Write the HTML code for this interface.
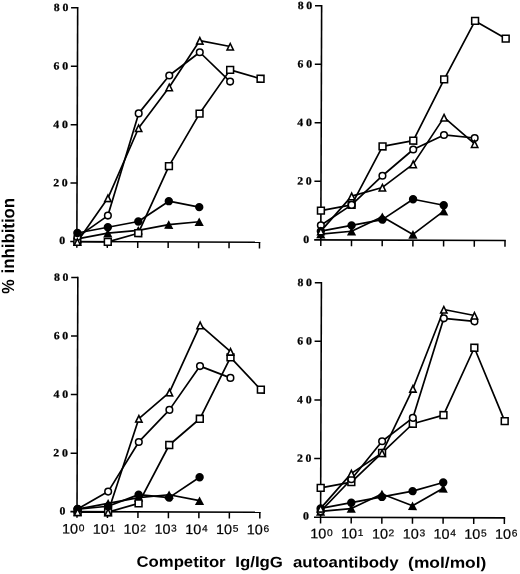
<!DOCTYPE html>
<html lang="en">
<head>
<meta charset="utf-8">
<title>Competitor Ig/IgG autoantibody inhibition</title>
<style>
html,body{margin:0;padding:0;background:#fff;}
body{width:520px;height:574px;overflow:hidden;}
svg{display:block;}
.yl{font-family:"Liberation Serif",serif;font-weight:bold;font-size:11px;fill:#000;stroke:#000;stroke-width:0.25px;}
.xl{font-family:"Liberation Sans",sans-serif;font-size:13.8px;fill:#000;stroke:#000;stroke-width:0.2px;}
.xs{font-family:"Liberation Sans",sans-serif;font-size:9.8px;fill:#000;stroke:#000;stroke-width:0.2px;}
.ttl text{font-family:"Liberation Sans",sans-serif;font-weight:bold;font-size:15.2px;fill:#000;}
.ylab text{font-family:"Liberation Sans",sans-serif;font-weight:bold;font-size:17.5px;fill:#000;}
</style>
</head>
<body>
<svg width="520" height="574" viewBox="0 0 520 574">
<rect width="520" height="574" fill="#fff"/>
<g transform="rotate(0.2)">
<g id="panelA">
<path d="M77.7 6.7V241.3" stroke="#000" stroke-width="1.6" fill="none"/>
<path d="M71.1 241.3H261.14" stroke="#000" stroke-width="1.6" fill="none"/>
<path d="M71.1 182.85H77.7M71.1 124.4H77.7M71.1 65.95H77.7M71.1 7.5H77.7M77.7 241.3V247.5M108.14 241.3V247.5M138.58 241.3V247.5M169.02 241.3V247.5M199.46 241.3V247.5M229.9 241.3V247.5M260.34 241.3V247.5" stroke="#000" stroke-width="1.5" fill="none"/>
<text class="yl" transform="translate(66.1 243.7) scale(1.07 1)" text-anchor="end">0</text>
<text class="yl" transform="translate(68.3 186.15) scale(1.07 1)" text-anchor="end" word-spacing="-0.2">2 0</text>
<text class="yl" transform="translate(68.3 127.7) scale(1.07 1)" text-anchor="end" word-spacing="-0.2">4 0</text>
<text class="yl" transform="translate(68.3 69.25) scale(1.07 1)" text-anchor="end" word-spacing="-0.2">6 0</text>
<text class="yl" transform="translate(68.3 10.8) scale(1.07 1)" text-anchor="end" word-spacing="-0.2">8 0</text>
<path d="M78.2 238.58L108.64 232.73L139.08 229.81L169.52 223.97L199.96 221.04" stroke="#000" stroke-width="1.7" fill="none" stroke-linejoin="round"/>
<path d="M78.2 241.5L108.64 241.5L139.08 232.73L169.52 165.51L199.96 112.91L230.4 69.07L260.84 77.84" stroke="#000" stroke-width="1.7" fill="none" stroke-linejoin="round"/>
<path d="M78.2 236.82L108.64 215.2L139.08 112.91L169.52 74.92L199.96 51.54L230.4 80.76" stroke="#000" stroke-width="1.7" fill="none" stroke-linejoin="round"/>
<path d="M78.2 232.73L108.64 226.89L139.08 221.04L169.52 200.58L199.96 206.43" stroke="#000" stroke-width="1.7" fill="none" stroke-linejoin="round"/>
<path d="M78.2 241.5L108.64 197.66L139.08 127.52L169.52 86.61L199.96 39.85L230.4 45.69" stroke="#000" stroke-width="1.7" fill="none" stroke-linejoin="round"/>
<polygon points="78.2,234.28 82.8,242.88 73.6,242.88" fill="#000"/>
<polygon points="108.64,228.43 113.24,237.03 104.04,237.03" fill="#000"/>
<polygon points="139.08,225.51 143.68,234.11 134.48,234.11" fill="#000"/>
<polygon points="169.52,219.66 174.12,228.27 164.92,228.27" fill="#000"/>
<polygon points="199.96,216.74 204.56,225.34 195.36,225.34" fill="#000"/>
<rect x="74.8" y="238.1" width="6.8" height="6.8" fill="#fff" stroke="#000" stroke-width="1.55"/>
<rect x="105.24" y="238.1" width="6.8" height="6.8" fill="#fff" stroke="#000" stroke-width="1.55"/>
<rect x="135.68" y="229.33" width="6.8" height="6.8" fill="#fff" stroke="#000" stroke-width="1.55"/>
<rect x="166.12" y="162.11" width="6.8" height="6.8" fill="#fff" stroke="#000" stroke-width="1.55"/>
<rect x="196.56" y="109.51" width="6.8" height="6.8" fill="#fff" stroke="#000" stroke-width="1.55"/>
<rect x="227" y="65.67" width="6.8" height="6.8" fill="#fff" stroke="#000" stroke-width="1.55"/>
<rect x="257.44" y="74.44" width="6.8" height="6.8" fill="#fff" stroke="#000" stroke-width="1.55"/>
<circle cx="78.2" cy="236.82" r="3.3" fill="#fff" stroke="#000" stroke-width="1.55"/>
<circle cx="108.64" cy="215.2" r="3.3" fill="#fff" stroke="#000" stroke-width="1.55"/>
<circle cx="139.08" cy="112.91" r="3.3" fill="#fff" stroke="#000" stroke-width="1.55"/>
<circle cx="169.52" cy="74.92" r="3.3" fill="#fff" stroke="#000" stroke-width="1.55"/>
<circle cx="199.96" cy="51.54" r="3.3" fill="#fff" stroke="#000" stroke-width="1.55"/>
<circle cx="230.4" cy="80.76" r="3.3" fill="#fff" stroke="#000" stroke-width="1.55"/>
<circle cx="78.2" cy="232.73" r="4.2" fill="#000"/>
<circle cx="108.64" cy="226.89" r="4.2" fill="#000"/>
<circle cx="139.08" cy="221.04" r="4.2" fill="#000"/>
<circle cx="169.52" cy="200.58" r="4.2" fill="#000"/>
<circle cx="199.96" cy="206.43" r="4.2" fill="#000"/>
<polygon points="78.2,238.5 81.4,245.05 75,245.05" fill="#fff" stroke="#000" stroke-width="1.55" stroke-linejoin="miter"/>
<polygon points="108.64,194.66 111.84,201.21 105.44,201.21" fill="#fff" stroke="#000" stroke-width="1.55" stroke-linejoin="miter"/>
<polygon points="139.08,124.52 142.28,131.07 135.88,131.07" fill="#fff" stroke="#000" stroke-width="1.55" stroke-linejoin="miter"/>
<polygon points="169.52,83.61 172.72,90.16 166.32,90.16" fill="#fff" stroke="#000" stroke-width="1.55" stroke-linejoin="miter"/>
<polygon points="199.96,36.85 203.16,43.4 196.76,43.4" fill="#fff" stroke="#000" stroke-width="1.55" stroke-linejoin="miter"/>
<polygon points="230.4,42.69 233.6,49.24 227.2,49.24" fill="#fff" stroke="#000" stroke-width="1.55" stroke-linejoin="miter"/>
</g>
<g id="panelB">
<path d="M321.65 3.8V238.8" stroke="#000" stroke-width="1.6" fill="none"/>
<path d="M315.05 238.8H506.65" stroke="#000" stroke-width="1.6" fill="none"/>
<path d="M315.05 180.25H321.65M315.05 121.7H321.65M315.05 63.15H321.65M315.05 4.6H321.65M321.65 238.8V245M352.35 238.8V245M383.05 238.8V245M413.75 238.8V245M444.45 238.8V245M475.15 238.8V245M505.85 238.8V245" stroke="#000" stroke-width="1.5" fill="none"/>
<text class="yl" transform="translate(310.05 241.9) scale(1.07 1)" text-anchor="end">0</text>
<text class="yl" transform="translate(312.25 183.55) scale(1.07 1)" text-anchor="end" word-spacing="-0.2">2 0</text>
<text class="yl" transform="translate(312.25 125) scale(1.07 1)" text-anchor="end" word-spacing="-0.2">4 0</text>
<text class="yl" transform="translate(312.25 66.45) scale(1.07 1)" text-anchor="end" word-spacing="-0.2">6 0</text>
<text class="yl" transform="translate(312.25 7.9) scale(1.07 1)" text-anchor="end" word-spacing="-0.2">8 0</text>
<path d="M321.65 232.95L352.35 230.02L383.05 215.38L413.75 232.95L444.45 209.53" stroke="#000" stroke-width="1.7" fill="none" stroke-linejoin="round"/>
<path d="M321.65 209.53L352.35 203.67L383.05 145.12L413.75 139.26L444.45 77.79L475.15 19.24L505.85 36.8" stroke="#000" stroke-width="1.7" fill="none" stroke-linejoin="round"/>
<path d="M321.65 224.16L352.35 203.67L383.05 174.4L413.75 148.05L444.45 133.41L475.15 136.34" stroke="#000" stroke-width="1.7" fill="none" stroke-linejoin="round"/>
<path d="M321.65 230.02L352.35 224.16L383.05 218.31L413.75 197.81L444.45 203.67" stroke="#000" stroke-width="1.7" fill="none" stroke-linejoin="round"/>
<path d="M321.65 230.02L352.35 194.89L383.05 186.11L413.75 162.69L444.45 115.84L475.15 142.19" stroke="#000" stroke-width="1.7" fill="none" stroke-linejoin="round"/>
<polygon points="321.65,228.65 326.25,237.25 317.05,237.25" fill="#000"/>
<polygon points="352.35,225.72 356.95,234.32 347.75,234.32" fill="#000"/>
<polygon points="383.05,211.08 387.65,219.68 378.45,219.68" fill="#000"/>
<polygon points="413.75,228.65 418.35,237.25 409.15,237.25" fill="#000"/>
<polygon points="444.45,205.22 449.05,213.83 439.85,213.83" fill="#000"/>
<rect x="318.25" y="206.12" width="6.8" height="6.8" fill="#fff" stroke="#000" stroke-width="1.55"/>
<rect x="348.95" y="200.27" width="6.8" height="6.8" fill="#fff" stroke="#000" stroke-width="1.55"/>
<rect x="379.65" y="141.72" width="6.8" height="6.8" fill="#fff" stroke="#000" stroke-width="1.55"/>
<rect x="410.35" y="135.86" width="6.8" height="6.8" fill="#fff" stroke="#000" stroke-width="1.55"/>
<rect x="441.05" y="74.39" width="6.8" height="6.8" fill="#fff" stroke="#000" stroke-width="1.55"/>
<rect x="471.75" y="15.84" width="6.8" height="6.8" fill="#fff" stroke="#000" stroke-width="1.55"/>
<rect x="502.45" y="33.4" width="6.8" height="6.8" fill="#fff" stroke="#000" stroke-width="1.55"/>
<circle cx="321.65" cy="224.16" r="3.3" fill="#fff" stroke="#000" stroke-width="1.55"/>
<circle cx="352.35" cy="203.67" r="3.3" fill="#fff" stroke="#000" stroke-width="1.55"/>
<circle cx="383.05" cy="174.4" r="3.3" fill="#fff" stroke="#000" stroke-width="1.55"/>
<circle cx="413.75" cy="148.05" r="3.3" fill="#fff" stroke="#000" stroke-width="1.55"/>
<circle cx="444.45" cy="133.41" r="3.3" fill="#fff" stroke="#000" stroke-width="1.55"/>
<circle cx="475.15" cy="136.34" r="3.3" fill="#fff" stroke="#000" stroke-width="1.55"/>
<circle cx="321.65" cy="230.02" r="4.2" fill="#000"/>
<circle cx="352.35" cy="224.16" r="4.2" fill="#000"/>
<circle cx="383.05" cy="218.31" r="4.2" fill="#000"/>
<circle cx="413.75" cy="197.81" r="4.2" fill="#000"/>
<circle cx="444.45" cy="203.67" r="4.2" fill="#000"/>
<polygon points="321.65,227.02 324.85,233.57 318.45,233.57" fill="#fff" stroke="#000" stroke-width="1.55" stroke-linejoin="miter"/>
<polygon points="352.35,191.89 355.55,198.44 349.15,198.44" fill="#fff" stroke="#000" stroke-width="1.55" stroke-linejoin="miter"/>
<polygon points="383.05,183.11 386.25,189.66 379.85,189.66" fill="#fff" stroke="#000" stroke-width="1.55" stroke-linejoin="miter"/>
<polygon points="413.75,159.69 416.95,166.24 410.55,166.24" fill="#fff" stroke="#000" stroke-width="1.55" stroke-linejoin="miter"/>
<polygon points="444.45,112.84 447.65,119.39 441.25,119.39" fill="#fff" stroke="#000" stroke-width="1.55" stroke-linejoin="miter"/>
<polygon points="475.15,139.19 478.35,145.74 471.95,145.74" fill="#fff" stroke="#000" stroke-width="1.55" stroke-linejoin="miter"/>
</g>
<g id="panelC">
<path d="M78.8 276.5V511.4" stroke="#000" stroke-width="1.6" fill="none"/>
<path d="M72.2 511.4H262.42" stroke="#000" stroke-width="1.6" fill="none"/>
<path d="M72.2 452.88H78.8M72.2 394.35H78.8M72.2 335.82H78.8M72.2 277.3H78.8M78.8 511.4V517.6M109.27 511.4V517.6M139.74 511.4V517.6M170.21 511.4V517.6M200.68 511.4V517.6M231.15 511.4V517.6M261.62 511.4V517.6" stroke="#000" stroke-width="1.5" fill="none"/>
<text class="yl" transform="translate(67.2 514.3) scale(1.07 1)" text-anchor="end">0</text>
<text class="yl" transform="translate(69.4 456.18) scale(1.07 1)" text-anchor="end" word-spacing="-0.2">2 0</text>
<text class="yl" transform="translate(69.4 397.65) scale(1.07 1)" text-anchor="end" word-spacing="-0.2">4 0</text>
<text class="yl" transform="translate(69.4 339.12) scale(1.07 1)" text-anchor="end" word-spacing="-0.2">6 0</text>
<text class="yl" transform="translate(69.4 280.6) scale(1.07 1)" text-anchor="end" word-spacing="-0.2">8 0</text>
<text class="xl" transform="translate(63.86 533.3) scale(1.045 1)">10</text><text class="xs" transform="translate(80.56 531) scale(1.045 1)">0</text>
<text class="xl" transform="translate(94.66 533.3) scale(1.045 1)">10</text><text class="xs" transform="translate(111.36 531) scale(1.045 1)">1</text>
<text class="xl" transform="translate(125.46 533.3) scale(1.045 1)">10</text><text class="xs" transform="translate(142.16 531) scale(1.045 1)">2</text>
<text class="xl" transform="translate(156.26 533.3) scale(1.045 1)">10</text><text class="xs" transform="translate(172.96 531) scale(1.045 1)">3</text>
<text class="xl" transform="translate(187.06 533.3) scale(1.045 1)">10</text><text class="xs" transform="translate(203.76 531) scale(1.045 1)">4</text>
<text class="xl" transform="translate(217.86 533.3) scale(1.045 1)">10</text><text class="xs" transform="translate(234.56 531) scale(1.045 1)">5</text>
<text class="xl" transform="translate(248.66 533.3) scale(1.045 1)">10</text><text class="xs" transform="translate(265.36 531) scale(1.045 1)">6</text>
<path d="M79.4 508.77L109.87 502.92L140.34 497.07L170.81 494.14L201.28 500" stroke="#000" stroke-width="1.7" fill="none" stroke-linejoin="round"/>
<path d="M79.4 511.7L109.87 511.7L140.34 502.92L170.81 444.4L201.28 418.06L231.75 356.61L262.22 388.8" stroke="#000" stroke-width="1.7" fill="none" stroke-linejoin="round"/>
<path d="M79.4 508.77L109.87 491.22L140.34 441.47L170.81 409.28L201.28 365.39L231.75 377.09" stroke="#000" stroke-width="1.7" fill="none" stroke-linejoin="round"/>
<path d="M79.4 508.77L109.87 505.85L140.34 494.14L170.81 497.07L201.28 476.58" stroke="#000" stroke-width="1.7" fill="none" stroke-linejoin="round"/>
<path d="M79.4 511.7L109.87 511.7L140.34 418.06L170.81 391.72L201.28 324.42L231.75 350.76" stroke="#000" stroke-width="1.7" fill="none" stroke-linejoin="round"/>
<polygon points="79.4,504.47 84,513.07 74.8,513.07" fill="#000"/>
<polygon points="109.87,498.62 114.47,507.22 105.27,507.22" fill="#000"/>
<polygon points="140.34,492.77 144.94,501.37 135.74,501.37" fill="#000"/>
<polygon points="170.81,489.84 175.41,498.44 166.21,498.44" fill="#000"/>
<polygon points="201.28,495.69 205.88,504.3 196.68,504.3" fill="#000"/>
<rect x="76" y="508.3" width="6.8" height="6.8" fill="#fff" stroke="#000" stroke-width="1.55"/>
<rect x="106.47" y="508.3" width="6.8" height="6.8" fill="#fff" stroke="#000" stroke-width="1.55"/>
<rect x="136.94" y="499.52" width="6.8" height="6.8" fill="#fff" stroke="#000" stroke-width="1.55"/>
<rect x="167.41" y="441" width="6.8" height="6.8" fill="#fff" stroke="#000" stroke-width="1.55"/>
<rect x="197.88" y="414.66" width="6.8" height="6.8" fill="#fff" stroke="#000" stroke-width="1.55"/>
<rect x="228.35" y="353.21" width="6.8" height="6.8" fill="#fff" stroke="#000" stroke-width="1.55"/>
<rect x="258.82" y="385.4" width="6.8" height="6.8" fill="#fff" stroke="#000" stroke-width="1.55"/>
<circle cx="79.4" cy="508.77" r="3.3" fill="#fff" stroke="#000" stroke-width="1.55"/>
<circle cx="109.87" cy="491.22" r="3.3" fill="#fff" stroke="#000" stroke-width="1.55"/>
<circle cx="140.34" cy="441.47" r="3.3" fill="#fff" stroke="#000" stroke-width="1.55"/>
<circle cx="170.81" cy="409.28" r="3.3" fill="#fff" stroke="#000" stroke-width="1.55"/>
<circle cx="201.28" cy="365.39" r="3.3" fill="#fff" stroke="#000" stroke-width="1.55"/>
<circle cx="231.75" cy="377.09" r="3.3" fill="#fff" stroke="#000" stroke-width="1.55"/>
<circle cx="79.4" cy="508.77" r="4.2" fill="#000"/>
<circle cx="109.87" cy="505.85" r="4.2" fill="#000"/>
<circle cx="140.34" cy="494.14" r="4.2" fill="#000"/>
<circle cx="170.81" cy="497.07" r="4.2" fill="#000"/>
<circle cx="201.28" cy="476.58" r="4.2" fill="#000"/>
<polygon points="79.4,508.7 82.6,515.25 76.2,515.25" fill="#fff" stroke="#000" stroke-width="1.55" stroke-linejoin="miter"/>
<polygon points="109.87,508.7 113.07,515.25 106.67,515.25" fill="#fff" stroke="#000" stroke-width="1.55" stroke-linejoin="miter"/>
<polygon points="140.34,415.06 143.54,421.61 137.14,421.61" fill="#fff" stroke="#000" stroke-width="1.55" stroke-linejoin="miter"/>
<polygon points="170.81,388.72 174.01,395.27 167.61,395.27" fill="#fff" stroke="#000" stroke-width="1.55" stroke-linejoin="miter"/>
<polygon points="201.28,321.42 204.48,327.97 198.08,327.97" fill="#fff" stroke="#000" stroke-width="1.55" stroke-linejoin="miter"/>
<polygon points="231.75,347.76 234.95,354.31 228.55,354.31" fill="#fff" stroke="#000" stroke-width="1.55" stroke-linejoin="miter"/>
</g>
<g id="panelD">
<path d="M322.4 280.8V516.1" stroke="#000" stroke-width="1.6" fill="none"/>
<path d="M315.8 516.1H506.98" stroke="#000" stroke-width="1.6" fill="none"/>
<path d="M315.8 457.48H322.4M315.8 398.85H322.4M315.8 340.23H322.4M315.8 281.6H322.4M322.4 516.1V522.3M353.03 516.1V522.3M383.66 516.1V522.3M414.29 516.1V522.3M444.92 516.1V522.3M475.55 516.1V522.3M506.18 516.1V522.3" stroke="#000" stroke-width="1.5" fill="none"/>
<text class="yl" transform="translate(310.8 518.5) scale(1.07 1)" text-anchor="end">0</text>
<text class="yl" transform="translate(313 460.78) scale(1.07 1)" text-anchor="end" word-spacing="-0.2">2 0</text>
<text class="yl" transform="translate(313 402.15) scale(1.07 1)" text-anchor="end" word-spacing="-0.2">4 0</text>
<text class="yl" transform="translate(313 343.53) scale(1.07 1)" text-anchor="end" word-spacing="-0.2">6 0</text>
<text class="yl" transform="translate(313 284.9) scale(1.07 1)" text-anchor="end" word-spacing="-0.2">8 0</text>
<text class="xl" transform="translate(312.18 537.1) scale(1.045 1)">10</text><text class="xs" transform="translate(328.88 534.8) scale(1.045 1)">0</text>
<text class="xl" transform="translate(342.98 537.1) scale(1.045 1)">10</text><text class="xs" transform="translate(359.68 534.8) scale(1.045 1)">1</text>
<text class="xl" transform="translate(373.78 537.1) scale(1.045 1)">10</text><text class="xs" transform="translate(390.48 534.8) scale(1.045 1)">2</text>
<text class="xl" transform="translate(404.58 537.1) scale(1.045 1)">10</text><text class="xs" transform="translate(421.28 534.8) scale(1.045 1)">3</text>
<text class="xl" transform="translate(435.38 537.1) scale(1.045 1)">10</text><text class="xs" transform="translate(452.08 534.8) scale(1.045 1)">4</text>
<text class="xl" transform="translate(466.18 537.1) scale(1.045 1)">10</text><text class="xs" transform="translate(482.88 534.8) scale(1.045 1)">5</text>
<text class="xl" transform="translate(496.98 537.1) scale(1.045 1)">10</text><text class="xs" transform="translate(513.68 534.8) scale(1.045 1)">6</text>
<path d="M322.4 510.24L353.03 507.31L383.66 492.65L414.29 504.38L444.92 486.79" stroke="#000" stroke-width="1.7" fill="none" stroke-linejoin="round"/>
<path d="M322.4 486.79L353.03 480.93L383.66 451.61L414.29 422.3L444.92 413.51L475.55 346.09L506.18 419.37" stroke="#000" stroke-width="1.7" fill="none" stroke-linejoin="round"/>
<path d="M322.4 510.24L353.03 477.99L383.66 439.89L414.29 416.44L444.92 316.78L475.55 319.71" stroke="#000" stroke-width="1.7" fill="none" stroke-linejoin="round"/>
<path d="M322.4 507.31L353.03 501.44L383.66 495.58L414.29 489.72L444.92 480.93" stroke="#000" stroke-width="1.7" fill="none" stroke-linejoin="round"/>
<path d="M322.4 507.31L353.03 472.13L383.66 451.61L414.29 387.12L444.92 307.98L475.55 313.84" stroke="#000" stroke-width="1.7" fill="none" stroke-linejoin="round"/>
<polygon points="322.4,505.94 327,514.54 317.8,514.54" fill="#000"/>
<polygon points="353.03,503.01 357.63,511.61 348.43,511.61" fill="#000"/>
<polygon points="383.66,488.35 388.26,496.95 379.06,496.95" fill="#000"/>
<polygon points="414.29,500.07 418.89,508.68 409.69,508.68" fill="#000"/>
<polygon points="444.92,482.49 449.52,491.09 440.32,491.09" fill="#000"/>
<rect x="319" y="483.39" width="6.8" height="6.8" fill="#fff" stroke="#000" stroke-width="1.55"/>
<rect x="349.63" y="477.53" width="6.8" height="6.8" fill="#fff" stroke="#000" stroke-width="1.55"/>
<rect x="380.26" y="448.21" width="6.8" height="6.8" fill="#fff" stroke="#000" stroke-width="1.55"/>
<rect x="410.89" y="418.9" width="6.8" height="6.8" fill="#fff" stroke="#000" stroke-width="1.55"/>
<rect x="441.52" y="410.11" width="6.8" height="6.8" fill="#fff" stroke="#000" stroke-width="1.55"/>
<rect x="472.15" y="342.69" width="6.8" height="6.8" fill="#fff" stroke="#000" stroke-width="1.55"/>
<rect x="502.78" y="415.97" width="6.8" height="6.8" fill="#fff" stroke="#000" stroke-width="1.55"/>
<circle cx="322.4" cy="510.24" r="3.3" fill="#fff" stroke="#000" stroke-width="1.55"/>
<circle cx="353.03" cy="477.99" r="3.3" fill="#fff" stroke="#000" stroke-width="1.55"/>
<circle cx="383.66" cy="439.89" r="3.3" fill="#fff" stroke="#000" stroke-width="1.55"/>
<circle cx="414.29" cy="416.44" r="3.3" fill="#fff" stroke="#000" stroke-width="1.55"/>
<circle cx="444.92" cy="316.78" r="3.3" fill="#fff" stroke="#000" stroke-width="1.55"/>
<circle cx="475.55" cy="319.71" r="3.3" fill="#fff" stroke="#000" stroke-width="1.55"/>
<circle cx="322.4" cy="507.31" r="4.2" fill="#000"/>
<circle cx="353.03" cy="501.44" r="4.2" fill="#000"/>
<circle cx="383.66" cy="495.58" r="4.2" fill="#000"/>
<circle cx="414.29" cy="489.72" r="4.2" fill="#000"/>
<circle cx="444.92" cy="480.93" r="4.2" fill="#000"/>
<polygon points="322.4,504.31 325.6,510.86 319.2,510.86" fill="#fff" stroke="#000" stroke-width="1.55" stroke-linejoin="miter"/>
<polygon points="353.03,469.13 356.23,475.68 349.83,475.68" fill="#fff" stroke="#000" stroke-width="1.55" stroke-linejoin="miter"/>
<polygon points="383.66,448.61 386.86,455.16 380.46,455.16" fill="#fff" stroke="#000" stroke-width="1.55" stroke-linejoin="miter"/>
<polygon points="414.29,384.12 417.49,390.68 411.09,390.68" fill="#fff" stroke="#000" stroke-width="1.55" stroke-linejoin="miter"/>
<polygon points="444.92,304.98 448.12,311.53 441.72,311.53" fill="#fff" stroke="#000" stroke-width="1.55" stroke-linejoin="miter"/>
<polygon points="475.55,310.84 478.75,317.39 472.35,317.39" fill="#fff" stroke="#000" stroke-width="1.55" stroke-linejoin="miter"/>
</g>
<g class="ttl"><text transform="translate(138.48 566.2) scale(1.1 1)">Competitor</text><text transform="translate(237.28 566.2) scale(1.107 1)">Ig/IgG</text><text transform="translate(294.98 566.2) scale(1.108 1)">autoantibody</text><text transform="translate(410.08 566.2) scale(1.145 1)">(mol/mol)</text></g>
<g class="ylab" transform="translate(15.05 293.75) rotate(-90)"><text transform="translate(0 0) scale(0.92 1)">%</text><text transform="translate(20.4 0) scale(0.96 1)">inhibition</text></g>
</g>
</svg>
</body>
</html>
